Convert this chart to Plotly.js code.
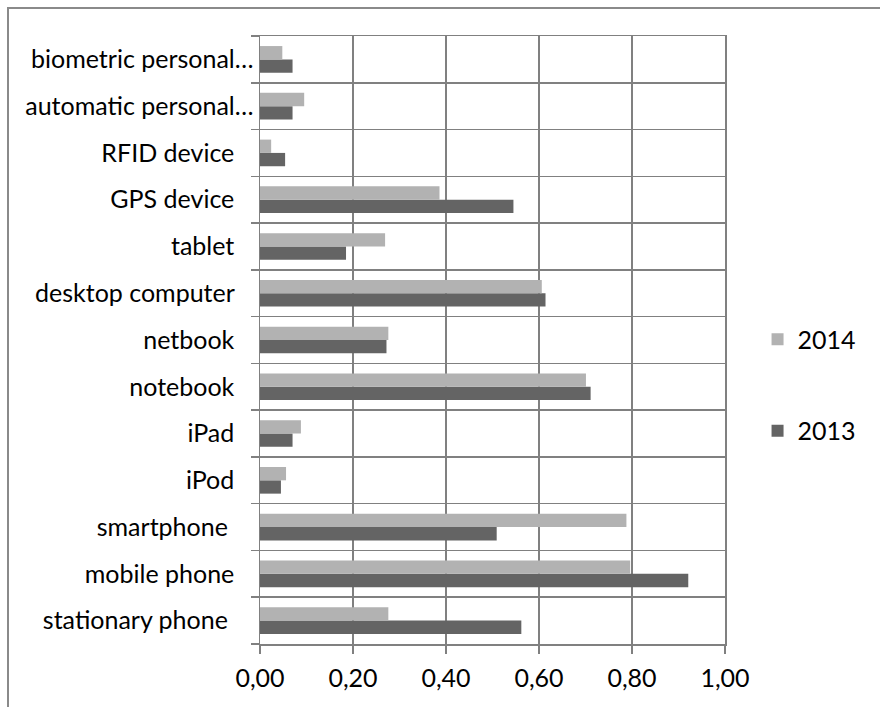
<!DOCTYPE html>
<html>
<head>
<meta charset="utf-8">
<script src="https://cdn.plot.ly/plotly-3.0.1.min.js"></script>
<style>
  html, body { margin: 0; padding: 0; background: #fff; }
  #wrap { position: relative; width: 880px; height: 707px; overflow: hidden; }
  #chart { position: absolute; left: 0; top: 0; width: 880px; height: 707px; }
  #frame { position: absolute; left: 7px; top: 7px; width: 900px; height: 720px;
           border-left: 2px solid #8a8a8a; border-top: 2px solid #8a8a8a; pointer-events: none; }
</style>
</head>
<body>
<div id="wrap">
  <div id="chart"></div>
  <div id="frame"></div>
</div>
<script>
// Categories listed bottom to top
const categories = [
  "stationary phone", "mobile phone", "smartphone", "iPod", "iPad",
  "notebook", "netbook", "desktop computer", "tablet", "GPS device",
  "RFID device", "automatic personal…", "biometric personal…"
];
const values2013 = [0.562, 0.921, 0.509, 0.045, 0.070, 0.711, 0.272, 0.614, 0.185, 0.545, 0.054, 0.070, 0.070];
const values2014 = [0.276, 0.796, 0.788, 0.056, 0.088, 0.701, 0.276, 0.606, 0.269, 0.386, 0.024, 0.095, 0.048];
const seriesNames = ["2013", "2014"];
const xTicks = [0, 0.2, 0.4, 0.6, 0.8, 1.0];

const FONT = "Lato, 'Open Sans', sans-serif";
const FS = 25;
const GRID = "#808080";

// Excel pads the non-truncated labels; emulate with non-breaking spaces
const tickText = categories.map(c => {
  if (c.endsWith("…")) return c;
  if (c === "smartphone" || c === "stationary phone") return c + "\u00a0\u00a0\u00a0\u00a0";
  return c + "\u00a0\u00a0\u00a0";
});

const traces = [
  { type: "bar", orientation: "h", name: seriesNames[0], y: categories, x: values2013,
    marker: { color: "#646464" }, legendgroup: "g2013", legendrank: 2 },
  { type: "bar", orientation: "h", name: seriesNames[1], y: categories, x: values2014,
    marker: { color: "#b2b2b2" }, legendgroup: "g2014", legendrank: 1 }
];

const layout = {
  width: 880, height: 707,
  margin: { l: 260, r: 155, t: 36, b: 63, pad: 0 },
  paper_bgcolor: "#ffffff", plot_bgcolor: "#ffffff",
  separators: ", ",
  font: { family: FONT, size: FS, color: "#000" },
  barmode: "group", bargap: 0.43, bargroupgap: 0,
  showlegend: true,
  legend: {
    x: 1.07, xanchor: "left", y: 0.426, yanchor: "middle",
    traceorder: "grouped", tracegroupgap: 56,
    font: { family: FONT, size: FS, color: "#000" },
    bgcolor: "rgba(0,0,0,0)"
  },
  xaxis: {
    range: [0, 1], tickvals: xTicks, tickformat: ".2f",
    showgrid: true, gridcolor: GRID, gridwidth: 1.5,
    showline: true, linecolor: GRID, linewidth: 1.5, mirror: true,
    ticks: "outside", ticklen: 8, tickwidth: 1.5, tickcolor: GRID,
    ticklabelstandoff: 3,
    zeroline: false, fixedrange: true,
    tickfont: { family: FONT, size: FS, color: "#000" }
  },
  yaxis: {
    type: "category", categoryorder: "array", categoryarray: categories,
    tickvals: categories, ticktext: tickText,
    tickson: "boundaries",
    showgrid: true, gridcolor: GRID, gridwidth: 1.5,
    showline: true, linecolor: GRID, linewidth: 1.5, mirror: true,
    ticks: "outside", ticklen: 8, tickwidth: 1.5, tickcolor: GRID,
    zeroline: false, fixedrange: true,
    tickfont: { family: FONT, size: FS, color: "#000" }
  }
};

Plotly.newPlot("chart", traces, layout, { displayModeBar: false, staticPlot: true });
</script>
</body>
</html>
